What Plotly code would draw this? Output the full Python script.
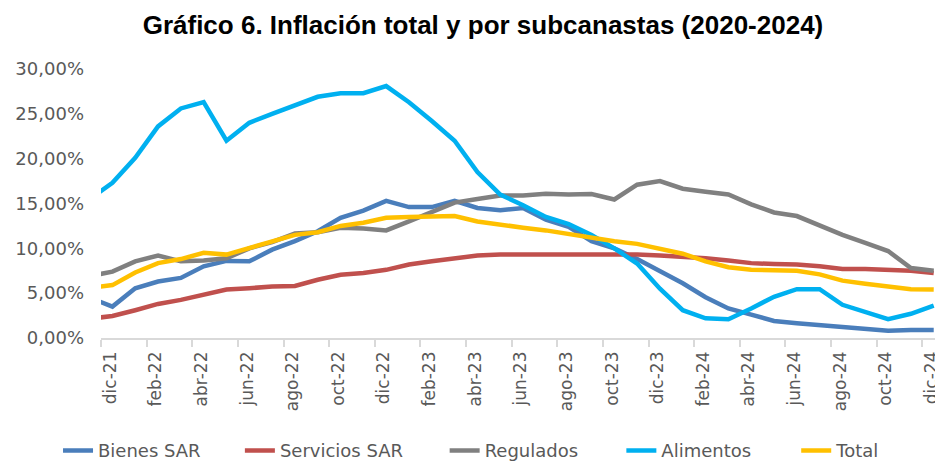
import plotly.graph_objects as go

months = ["nov-21", "dic-21", "ene-22", "feb-22", "mar-22", "abr-22", "may-22", "jun-22", "jul-22", "ago-22",
          "sep-22", "oct-22", "nov-22", "dic-22", "ene-23", "feb-23", "mar-23", "abr-23", "may-23", "jun-23",
          "jul-23", "ago-23", "sep-23", "oct-23", "nov-23", "dic-23", "ene-24", "feb-24", "mar-24", "abr-24",
          "may-24", "jun-24", "jul-24", "ago-24", "sep-24", "oct-24", "nov-24", "dic-24"]

bienes_sar = [4.5, 3.5, 5.55, 6.3, 6.7, 8.0, 8.6, 8.55, 9.85, 10.8,
              11.9, 13.4, 14.2, 15.3, 14.6, 14.6, 15.3, 14.5, 14.25, 14.5,
              13.2, 12.4, 10.8, 10.0, 8.8, 7.5, 6.1, 4.55, 3.3, 2.6,
              1.9, 1.65, 1.45, 1.2, 1.0, 0.8, 0.9, 0.9]
servicios_sar = [2.15, 2.45, 3.1, 3.8, 4.25, 4.8, 5.4, 5.55, 5.75, 5.8,
                 6.5, 7.05, 7.25, 7.6, 8.2, 8.55, 8.9, 9.2, 9.3, 9.3,
                 9.4, 9.4, 9.35, 9.35, 9.3, 9.2, 9.1, 8.9, 8.65, 8.35,
                 8.25, 8.2, 8.0, 7.7, 7.7, 7.6, 7.5, 7.25]
regulados = [6.9, 7.4, 8.55, 9.2, 8.55, 8.65, 8.9, 10.0, 10.7, 11.65,
             11.8, 12.3, 12.2, 12.0, 13.0, 14.0, 15.1, 15.5, 15.9, 15.9,
             16.1, 16.0, 16.05, 15.45, 17.1, 17.5, 16.65, 16.3, 16.0, 14.9,
             14.0, 13.6, 12.5, 11.5, 10.6, 9.7, 7.8, 7.5]
alimentos = [15.5, 17.3, 20.1, 23.6, 25.6, 26.3, 22.0, 24.0, 25.0, 25.9,
             26.9, 27.3, 27.3, 28.1, 26.3, 24.2, 22.0, 18.5, 16.0, 14.8,
             13.5, 12.7, 11.5, 10.0, 8.3, 5.5, 3.1, 2.2, 2.1, 3.3,
             4.6, 5.45, 5.45, 3.7, 2.95, 2.1, 2.7, 3.6]
total = [5.6, 5.9, 7.3, 8.35, 8.8, 9.5, 9.3, 10.0, 10.8, 11.5,
         11.8, 12.5, 12.85, 13.4, 13.5, 13.6, 13.6, 13.0, 12.6, 12.3,
         12.0, 11.6, 11.15, 10.8, 10.5, 9.9, 9.4, 8.55, 7.9, 7.6,
         7.5, 7.5, 7.1, 6.4, 6.05, 5.75, 5.45, 5.4]

y_ticks = [0, 5, 10, 15, 20, 25, 30]
y_labels = ["0,00%", "5,00%", "10,00%", "15,00%", "20,00%", "25,00%", "30,00%"]

series = [
    ("Bienes SAR", bienes_sar, "#4A7EBB"),
    ("Servicios SAR", servicios_sar, "#C0504D"),
    ("Regulados", regulados, "#808080"),
    ("Alimentos", alimentos, "#00B0F0"),
    ("Total", total, "#FFC000"),
]
# left edge (container fraction) of each legend entry
legend_x = [0.0535, 0.248, 0.467, 0.656, 0.843]

# each month sits in the middle of its slot; slot boundaries are the tick marks
x = [k - 0.5 for k in range(len(months))]
label_idx = list(range(1, len(months), 2))
label_pos = [x[k] - 0.1 for k in label_idx]
label_txt = [months[k] for k in label_idx]

base_font = "DejaVu Sans, Verdana, sans-serif"
y_font = dict(family=base_font, size=18, color="#595959")
x_font = dict(family=base_font, size=17, color="#595959")

fig = go.Figure()
legend_layouts = {}
for k, (name, vals, color) in enumerate(series):
    lname = "legend" if k == 0 else f"legend{k + 1}"
    fig.add_trace(go.Scatter(x=x, y=vals, mode="lines", name=name, legend=lname,
                             line=dict(color=color, width=4.5)))
    legend_layouts[lname] = dict(orientation="h", x=legend_x[k], xanchor="left", xref="container",
                                 y=0.027, yanchor="middle", yref="container",
                                 font=dict(family=base_font, size=18, color="#595959"),
                                 bgcolor="rgba(0,0,0,0)")

# the page body has an 8px default margin, so the figure is sized to fit the window
fig.update_layout(
    width=935, height=455,
    margin=dict(l=93, r=7, t=61, b=125),
    paper_bgcolor="white", plot_bgcolor="white",
    title=dict(text="<b>Gráfico 6. Inflación total y por subcanastas (2020-2024)</b>",
               x=0.508, xanchor="center", y=0.963, yanchor="middle",
               font=dict(family="Liberation Sans, Arial, sans-serif", size=26, color="black")),
    xaxis=dict(range=[0, 36.6], tickmode="array", tickvals=label_pos, ticktext=label_txt,
               tickangle=-90, ticks="", showgrid=False, zeroline=False, automargin=False,
               showline=True, linecolor="#D9D9D9", linewidth=1.5, ticklabeloverflow="allow",
               tickfont=x_font, ticklabelstandoff=5,
               minor=dict(tickmode="array", tickvals=list(range(0, 37, 2)), ticks="outside",
                          ticklen=7, tickcolor="#D9D9D9", tickwidth=1.5, showgrid=False)),
    yaxis=dict(range=[0, 30], tickmode="array", tickvals=y_ticks, ticktext=y_labels,
               showgrid=False, zeroline=False, showline=False, ticks="", automargin=False,
               tickfont=y_font, ticklabelstandoff=16),
    showlegend=True,
    **legend_layouts,
)

fig.write_html("out.html")
